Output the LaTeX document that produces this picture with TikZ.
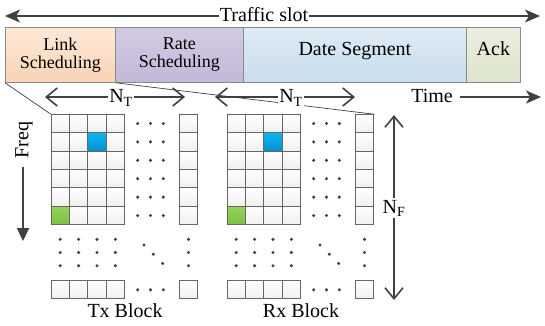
\documentclass[tikz,border=0pt]{standalone}
\usepackage{fontspec}
\setmainfont{Liberation Serif}
\usetikzlibrary{arrows.meta}
\definecolor{dk}{HTML}{404040}
\definecolor{cellline}{HTML}{666666}
\definecolor{segline}{HTML}{8A8A8A}
\definecolor{linkA}{HTML}{FDE9D8}
\definecolor{linkB}{HTML}{F9D3B5}
\definecolor{rateA}{HTML}{D3CAE3}
\definecolor{rateB}{HTML}{C4B8D8}
\definecolor{dateA}{HTML}{DDEBF5}
\definecolor{dateB}{HTML}{CADDEC}
\definecolor{ackA}{HTML}{EBEFE0}
\definecolor{ackB}{HTML}{DDE4CC}
\definecolor{blueA}{HTML}{10B4F0}
\definecolor{blueB}{HTML}{0090CF}
\definecolor{greenA}{HTML}{98D35A}
\definecolor{greenB}{HTML}{7CC040}
\tikzset{
  seg/.style={draw=segline, line width=0.8pt, minimum height=55pt, inner sep=0pt, anchor=north west, align=center},
  segtext/.style={font=\fontsize{20}{20}\selectfont},
  schedtext/.style={font=\fontsize{18}{18}\selectfont},
  lbl/.style={font=\fontsize{20}{20}\selectfont},
  cell/.style={draw=cellline, line width=0.9pt, top color=white, bottom color=gray!12},
  bluecell/.style={draw=cellline, line width=0.9pt, top color=blueA, bottom color=blueB},
  greencell/.style={draw=cellline, line width=0.9pt, top color=greenA, bottom color=greenB},
  dimarrow/.style={draw=dk, line width=1.6pt, {Straight Barb[length=11pt,width=18pt,line width=1.6pt]}-{Straight Barb[length=11pt,width=18pt,line width=1.6pt]}},
  bigarrow/.style={draw=dk, line width=1.6pt, {Stealth[length=15pt,width=13pt,inset=4pt]}-{Stealth[length=15pt,width=13pt,inset=4pt]}},
  timearrow/.style={draw=dk, line width=1.6pt, -{Stealth[length=15pt,width=13pt,inset=4pt]}},
  freqarrow/.style={draw=dk, line width=2.2pt, -{Triangle[length=13pt,width=12pt]}},
  zoomline/.style={draw=dk, line width=0.7pt},
  dot/.style={fill=dk},
}
\begin{document}
\begin{tikzpicture}[x=1pt,y=-1pt]
\useasboundingbox (0,0) rectangle (545,325);

% top traffic slot arrow
\coordinate (tsl) at (5,16);
\coordinate (tsr) at (540,16);
\draw[bigarrow] (tsl) -- (tsr);
\node[lbl, fill=white, inner xsep=1pt, inner ysep=0pt] (traffic) at (264,15) {Traffic slot};

% segments
\node[seg, schedtext, minimum width=110pt, top color=linkA, bottom color=linkB] (link) at (5,27) {Link\\Scheduling};
\node[seg, schedtext, minimum width=128pt, top color=rateA, bottom color=rateB] (rate) at (115,27) {Rate\\Scheduling};
\node[seg, segtext, minimum width=223pt, top color=dateA, bottom color=dateB] (date) at (243,27) {Date Segment\rule[-12pt]{0pt}{0pt}};
\node[seg, segtext, minimum width=54pt, top color=ackA, bottom color=ackB] (ack) at (466,27) {Ack\rule[-12pt]{0pt}{0pt}};

% grid corner coordinates
\coordinate (txTL) at (51,114.3);
\coordinate (rxTR) at (374.7,114.3);
\draw[zoomline] (link.south west) -- (txTL);
\draw[zoomline] (link.south east) -- (rxTR);

% N_T arrows
\coordinate (nt1l) at (45,97);
\coordinate (nt1r) at (185,97);
\coordinate (nt2l) at (215,97);
\coordinate (nt2r) at (355,97);
\draw[dimarrow] (nt1l) -- (nt1r);
\draw[dimarrow] (nt2l) -- (nt2r);
\node[lbl, fill=white, inner xsep=1pt, inner ysep=0pt] (nt1) at (121,98) {N\textsubscript{T}};
\node[lbl, fill=white, inner xsep=1pt, inner ysep=0pt] (nt2) at (291,98) {N\textsubscript{T}};

% Time
\node[lbl] (time) at (432,96) {Time};
\coordinate (timeend) at (541,97);
\draw[timearrow] (time.east) ++(4,1) coordinate (timestart) -- (timeend);

% Freq
\node[lbl, rotate=90] (freq) at (24,140) {Freq};
\coordinate (fqs) at (23,167);
\coordinate (fqe) at (23,241);
\draw[freqarrow] (fqs) -- (fqe);

% N_F
\coordinate (nft) at (394,115);
\coordinate (nfb) at (394,300);
\draw[dimarrow] (nft) -- (nfb);
\node[lbl, fill=white, inner xsep=0pt, inner ysep=2pt] (nf) at (394,208) {N\textsubscript{F}};

% blocks
\def\s{18.4}
\foreach \ox in {0,176} {
  \foreach \i in {0,...,3} {
    \foreach \j in {0,...,5} {
      \draw[cell] ({\ox+51+\i*\s},{114.3+\j*\s}) rectangle ++(\s,\s);
    }
    \draw[cell] ({\ox+51+\i*\s},280.5) rectangle ++(\s,\s);
  }
  \draw[bluecell] ({\ox+51+2*\s},{114.3+\s}) rectangle ++(\s,\s);
  \draw[greencell] ({\ox+51},{114.3+5*\s}) rectangle ++(\s,\s);
  \foreach \j in {0,...,5} {
    \draw[cell] ({\ox+179.3},{114.3+\j*\s}) rectangle ++(\s,\s);
    \foreach \dx in {137.7,150.5,163.3}
      \fill[dot] ({\ox+\dx},{114.3+(\j+0.5)*\s}) circle (1.7);
  }
  \draw[cell] ({\ox+179.3},280.5) rectangle ++(\s,\s);
  \foreach \dx in {137.7,150.5,163.3}
    \fill[dot] ({\ox+\dx},289.8) circle (1.7);
  \foreach \dy in {239.3,252.5,265.7} {
    \foreach \i in {0,...,3}
      \fill[dot] ({\ox+51+(\i+0.5)*\s},\dy) circle (1.7);
    \fill[dot] ({\ox+179.3+0.5*\s},\dy) circle (1.7);
  }
  \fill[dot] ({\ox+144},245) circle (1.7);
  \fill[dot] ({\ox+153.3},254.2) circle (1.7);
  \fill[dot] ({\ox+162.7},263.4) circle (1.7);
}
\node[lbl] (txb) at (125,311) {Tx Block};
\node[lbl] (rxb) at (301,311) {Rx Block};
\end{tikzpicture}
\end{document}
